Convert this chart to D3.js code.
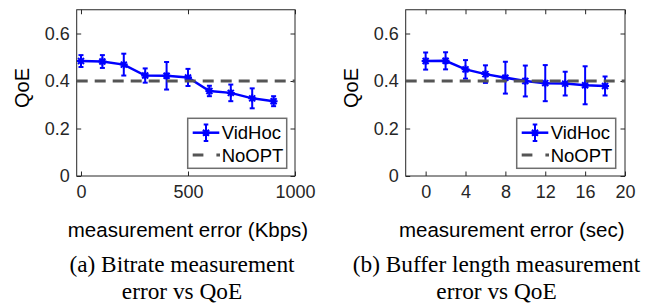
<!DOCTYPE html>
<html>
<head>
<meta charset="utf-8">
<script src="https://cdn.jsdelivr.net/npm/d3@7"></script>
<style>
  body { margin: 0; background: #fff; }
  svg { display: block; }
  .tick text { font-family: "Liberation Sans", Arial, sans-serif; }
</style>
</head>
<body>
<div id="chart"></div>
<script>
// data
var bitrateErr = [0, 100, 200, 300, 400, 500, 600, 700, 800, 900];
var bitrateQoE = [0.484, 0.482, 0.469, 0.423, 0.422, 0.415, 0.358, 0.350, 0.327, 0.315];
var bitrateStd = [0.025, 0.027, 0.046, 0.030, 0.058, 0.036, 0.022, 0.035, 0.042, 0.021];

var bufferErr = [0, 2, 4, 6, 8, 10, 12, 14, 16, 18];
var bufferQoE = [0.484, 0.485, 0.449, 0.429, 0.414, 0.400, 0.391, 0.389, 0.382, 0.379];
var bufferStd = [0.036, 0.036, 0.039, 0.037, 0.067, 0.065, 0.076, 0.050, 0.080, 0.040];

var noOptQoE = 0.4;

var bitrateTicks = [0, 500, 1000];
var bufferTicks = [0, 4, 8, 12, 16, 20];
var qoeTicks = [0, 0.2, 0.4, 0.6];

var seriesNames = ["VidHoc", "NoOPT"];

var svgWidth = 651;
var svgHeight = 305;

var svg = d3.select("#chart")
  .append("svg")
  .attr("width", svgWidth)
  .attr("height", svgHeight);

var sans = "'Liberation Sans', Arial, sans-serif";
var serif = "'Liberation Serif', 'Times New Roman', serif";
var axisColor = "#262626";
var blue = "#0000ff";
var grey = "#555555";

// one panel = axes box + series + legend + labels
function drawPanel(p) {
  var g = svg.append("g");

  var x = d3.scaleLinear().domain(p.xDomain).range([p.left, p.right]);
  var y = d3.scaleLinear().domain([0, 0.7]).range([176, 9.75]);

  // box
  g.append("rect")
    .attr("x", p.left)
    .attr("y", y(0.7))
    .attr("width", p.right - p.left)
    .attr("height", y(0) - y(0.7))
    .attr("fill", "none")
    .attr("stroke", axisColor)
    .attr("stroke-width", 1);

  // axes with inward ticks
  var xAxis = d3.axisBottom(x).tickValues(p.xTicks).tickSize(-4.5).tickPadding(9).tickFormat(d3.format("d"));
  var xTop = d3.axisTop(x).tickValues(p.xTicks).tickSize(-4.5).tickFormat("");
  var yAxis = d3.axisLeft(y).tickValues(qoeTicks).tickSize(-4.5).tickPadding(7)
    .tickFormat(function(d) { return d === 0 ? "0" : d3.format(".1f")(d); });
  var yRight = d3.axisRight(y).tickValues(qoeTicks).tickSize(-4.5).tickFormat("");

  function styleAxis(sel) {
    sel.select(".domain").remove();
    sel.selectAll(".tick line").attr("stroke", axisColor);
    sel.selectAll(".tick text")
      .attr("fill", axisColor)
      .style("font-size", "18px")
      .style("font-family", sans);
  }

  g.append("g").attr("transform", "translate(0," + y(0) + ")").call(xAxis).call(styleAxis);
  g.append("g").attr("transform", "translate(0," + y(0.7) + ")").call(xTop).call(styleAxis);
  g.append("g").attr("transform", "translate(" + p.left + ",0)").call(yAxis).call(styleAxis);
  g.append("g").attr("transform", "translate(" + p.right + ",0)").call(yRight).call(styleAxis);

  // VidHoc line
  var pts = p.xs.map(function(d, i) { return { x: d, q: p.qoe[i], s: p.std[i] }; });

  g.append("path")
    .datum(pts)
    .attr("fill", "none")
    .attr("stroke", blue)
    .attr("stroke-width", 2.5)
    .attr("d", d3.line().x(function(d) { return x(d.x); }).y(function(d) { return y(d.q); }));

  // error bars
  var bars = g.selectAll(".ebar").data(pts).enter().append("g").attr("class", "ebar");
  bars.append("line")
    .attr("x1", function(d) { return x(d.x); })
    .attr("x2", function(d) { return x(d.x); })
    .attr("y1", function(d) { return y(d.q - d.s); })
    .attr("y2", function(d) { return y(d.q + d.s); })
    .attr("stroke", blue).attr("stroke-width", 2);
  [-1, 1].forEach(function(sign) {
    bars.append("line")
      .attr("x1", function(d) { return x(d.x) - 2.5; })
      .attr("x2", function(d) { return x(d.x) + 2.5; })
      .attr("y1", function(d) { return y(d.q + sign * d.s); })
      .attr("y2", function(d) { return y(d.q + sign * d.s); })
      .attr("stroke", blue).attr("stroke-width", 2);
  });

  // asterisk markers
  bars.append("path")
    .attr("transform", function(d) { return "translate(" + x(d.x) + "," + y(d.q) + ")"; })
    .attr("d", "M-4,0H4M0,-4V4M-3,-3L3,3M-3,3L3,-3")
    .attr("stroke", blue).attr("stroke-width", 2);

  // NoOPT baseline
  g.append("line")
    .attr("x1", x(p.xDomain[0]))
    .attr("x2", x(p.xDomain[1]))
    .attr("y1", y(noOptQoE))
    .attr("y2", y(noOptQoE))
    .attr("stroke", grey)
    .attr("stroke-width", 3)
    .attr("stroke-dasharray", "11,7");

  // legend
  var lx = p.left + 111, ly = 118.3;
  var leg = g.append("g").attr("transform", "translate(" + lx + "," + ly + ")");
  leg.append("rect")
    .attr("width", 99).attr("height", 50)
    .attr("fill", "#fff")
    .attr("stroke", "#6e6e6e").attr("stroke-width", 1.5);

  leg.append("line").attr("x1", 5).attr("x2", 31.6).attr("y1", 14.4).attr("y2", 14.4)
    .attr("stroke", blue).attr("stroke-width", 2.5);
  leg.append("line").attr("x1", 18.3).attr("x2", 18.3).attr("y1", 6.2).attr("y2", 22.6)
    .attr("stroke", blue).attr("stroke-width", 2);
  leg.append("path").attr("d", "M16,6.2H20.6M16,22.6H20.6")
    .attr("stroke", blue).attr("stroke-width", 2);
  leg.append("path")
    .attr("transform", "translate(18.3,14.4)")
    .attr("d", "M-4,0H4M0,-4V4M-3,-3L3,3M-3,3L3,-3")
    .attr("stroke", blue).attr("stroke-width", 2);

  leg.append("line").attr("x1", 5).attr("x2", 32.3).attr("y1", 36.7).attr("y2", 36.7)
    .attr("stroke", grey).attr("stroke-width", 3).attr("stroke-dasharray", "10.7,13");

  leg.selectAll(".ltxt").data(seriesNames).enter().append("text")
    .attr("x", 34)
    .attr("y", function(d, i) { return 14.4 + i * 22.3; })
    .attr("dy", "0.36em")
    .attr("fill", "#000")
    .style("font-family", sans)
    .style("font-size", "18.5px")
    .text(function(d) { return d; });

  // y label
  g.append("text")
    .attr("transform", "translate(" + (p.left - 48) + ",88) rotate(-90)")
    .attr("text-anchor", "middle")
    .attr("fill", "#000")
    .style("font-family", sans)
    .style("font-size", "20px")
    .text("QoE");

  // x label
  g.append("text")
    .attr("x", p.xLabelX)
    .attr("y", 237)
    .attr("text-anchor", "middle")
    .attr("fill", "#000")
    .style("font-family", sans)
    .style("font-size", "20.5px")
    .text(p.xLabel);

  // caption
  g.selectAll(".cap").data(p.caption).enter().append("text")
    .attr("x", p.capX)
    .attr("y", function(d, i) { return 272 + i * 26.5; })
    .attr("text-anchor", "middle")
    .attr("fill", "#000")
    .style("font-family", serif)
    .style("font-size", "23.3px")
    .text(function(d) { return d; });
}

drawPanel({
  left: 76.7, right: 295,
  xDomain: [-20, 1000], xTicks: bitrateTicks,
  xs: bitrateErr, qoe: bitrateQoE, std: bitrateStd,
  xLabel: "measurement error (Kbps)", xLabelX: 188,
  caption: ["(a) Bitrate measurement", "error vs QoE"], capX: 182
});

drawPanel({
  left: 405.7, right: 625,
  xDomain: [-2, 20], xTicks: bufferTicks,
  xs: bufferErr, qoe: bufferQoE, std: bufferStd,
  xLabel: "measurement error (sec)", xLabelX: 511.7,
  caption: ["(b) Buffer length measurement", "error vs QoE"], capX: 496.5
});
</script>
</body>
</html>
